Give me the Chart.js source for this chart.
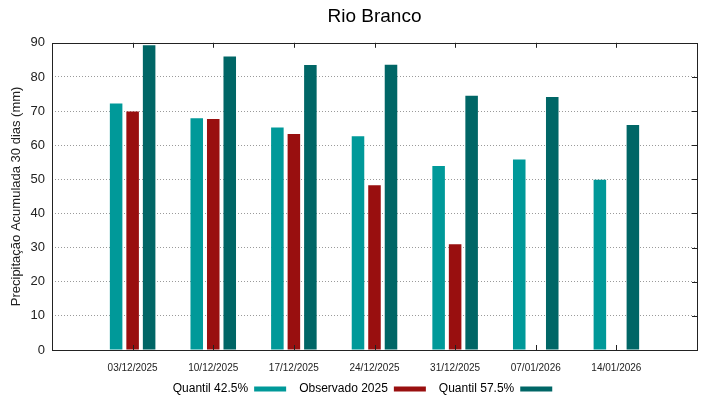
<!DOCTYPE html>
<html>
<head>
<meta charset="utf-8">
<script src="https://cdn.jsdelivr.net/npm/chart.js@4.4.1/dist/chart.umd.min.js"></script>
<style>
  html, body { margin: 0; padding: 0; background: #fff; }
  #wrap { width: 719px; height: 399px; }
</style>
</head>
<body>
<div id="wrap"><canvas id="barChart" width="719" height="399"></canvas></div>
<script>
const categories = ["03/12/2025", "10/12/2025", "17/12/2025", "24/12/2025", "31/12/2025", "07/01/2026", "14/01/2026"];
const quantil425 = [72.2, 67.9, 65.2, 62.6, 53.9, 55.8, 49.9];
const observado2025 = [69.9, 67.7, 63.3, 48.3, 31.0, null, null];
const quantil575 = [89.3, 86.0, 83.5, 83.6, 74.5, 74.1, 65.9];
const yTicks = [0, 10, 20, 30, 40, 50, 60, 70, 80, 90];

// pad with an empty slot on each side, the way the original x range runs
const labels = [''].concat(categories, ['']);
const pad = arr => [null].concat(arr, [null]);

// frame and inward tick marks, plus a nudge for the legend box
const framePlugin = {
    id: 'frame',
    afterInit(chart) {
        const fit = chart.legend.fit;
        chart.legend.fit = function() {
            fit.call(this);
            this.height = 25;
        };
    },
    afterLayout(chart) {
        const lg = chart.legend;
        lg.top -= 4; lg.bottom -= 4;
        lg.left += 14; lg.right += 14;
    },
    afterDraw(chart) {
        const ctx = chart.ctx;
        const a = chart.chartArea;
        const xs = chart.scales.x, ys = chart.scales.y;
        ctx.save();
        ctx.strokeStyle = '#222';
        ctx.lineWidth = 1;
        ctx.strokeRect(Math.round(a.left) + 0.5, Math.round(a.top) + 0.5,
            Math.round(a.right - a.left), Math.round(a.bottom - a.top));
        ctx.beginPath();
        yTicks.forEach(v => {
            const y = Math.round(ys.getPixelForValue(v)) + 0.5;
            ctx.moveTo(a.right, y); ctx.lineTo(a.right - 5, y);
        });
        for (let i = 1; i <= categories.length; i++) {
            const x = Math.round(xs.getPixelForValue(i)) + 0.5;
            ctx.moveTo(x, a.top); ctx.lineTo(x, a.top + 5);
            ctx.moveTo(x, a.bottom); ctx.lineTo(x, a.bottom - 5);
        }
        ctx.stroke();
        ctx.restore();
    }
};

const CHART = document.getElementById('barChart').getContext('2d');
let barChart = new Chart(CHART, {
    type: 'bar',
    data: {
        labels: labels,
        datasets: [{
            label: "Quantil 42.5%",
            data: pad(quantil425),
            backgroundColor: "#009999",
            borderWidth: 0
        }, {
            label: "Observado 2025",
            data: pad(observado2025),
            backgroundColor: "#990f0f",
            borderWidth: 0
        }, {
            label: "Quantil 57.5%",
            data: pad(quantil575),
            backgroundColor: "#006666",
            borderWidth: 0
        }]
    },
    options: {
        responsive: false,
        animation: false,
        layout: { padding: { top: 5, right: 22, left: 0, bottom: 0 } },
        datasets: { bar: { categoryPercentage: 0.614, barPercentage: 0.76 } },
        plugins: {
            title: {
                display: true,
                fullSize: false,
                text: "Rio Branco",
                color: '#000',
                font: { family: "'Liberation Sans', Arial, sans-serif", size: 19, weight: 'normal' },
                padding: { top: 0, bottom: 15 }
            },
            legend: {
                position: 'bottom',
                rtl: true,
                reverse: true,
                labels: {
                    color: '#000',
                    font: { family: "'Liberation Sans', Arial, sans-serif", size: 12 },
                    boxWidth: 32,
                    boxHeight: 5,
                    padding: 13
                }
            },
            tooltip: { enabled: false }
        },
        scales: {
            x: {
                offset: false,
                grid: { display: false, drawTicks: false },
                border: { display: false },
                afterFit: s => { s.height = 24; },
                ticks: {
                    autoSkip: false,
                    maxRotation: 0,
                    padding: 12,
                    color: '#222',
                    font: { family: "'Liberation Sans', Arial, sans-serif", size: 10 }
                }
            },
            y: {
                min: 0,
                max: 90,
                afterFit: s => { s.width = 52; },
                afterBuildTicks: s => { s.ticks = yTicks.map(v => ({ value: v })); },
                grid: {
                    drawTicks: false,
                    color: ctx => (ctx.tick && (ctx.tick.value === 0 || ctx.tick.value === 90)) ? 'rgba(0,0,0,0)' : '#9a9a9a',
                    lineWidth: 1
                },
                border: { display: false, dash: [1, 2] },
                ticks: {
                    padding: 7,
                    color: '#222',
                    font: { family: "'Liberation Sans', Arial, sans-serif", size: 13 }
                },
                title: {
                    display: true,
                    text: "Precipitação Acumulada 30 dias (mm)",
                    color: '#222',
                    padding: { top: 9, bottom: 0 },
                    font: { family: "'Liberation Sans', Arial, sans-serif", size: 13 }
                }
            }
        }
    },
    plugins: [framePlugin]
});
</script>
</body>
</html>
